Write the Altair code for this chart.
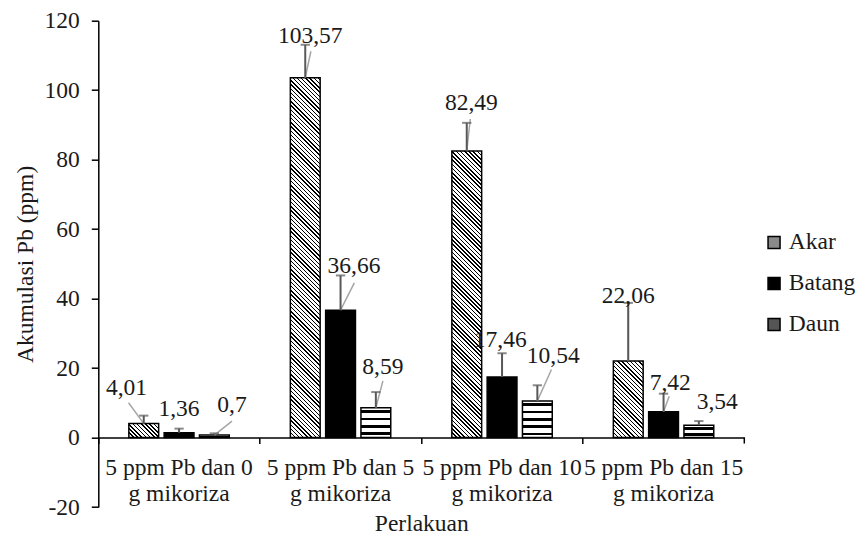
import altair as alt
import pandas as pd

# ---------------- data ----------------
GROUPS = ["5 ppm Pb dan 0\ng mikoriza", "5 ppm Pb dan 5\ng mikoriza",
          "5 ppm Pb dan 10\ng mikoriza", "5 ppm Pb dan 15\ng mikoriza"]
SERIES = ["Akar", "Batang", "Daun"]
AKAR = [4.01, 103.57, 82.49, 22.06]
BATANG = [1.36, 36.66, 17.46, 7.42]
DAUN = [0.7, 8.59, 10.54, 3.54]
AKAR_ERR = [2.3, 9.5, 8.1, 16.7]
BATANG_ERR = [1.2, 10.0, 6.8, 5.2]
DAUN_ERR = [0.5, 4.5, 4.5, 1.2]

# callout placement: label shift (in bar slots) and label height (ppm)
AKAR_LABEL_DX = [-0.49, 0.14, 0.13, 0.0]
AKAR_LABEL_Y = [14.4, 115.7, 96.3, 40.7]
BATANG_LABEL_DX = [0.0, 0.38, -0.05, 0.19]
BATANG_LABEL_Y = [8.3, 49.5, 28.0, 15.7]
DAUN_LABEL_DX = [0.5, 0.2, 0.45, 0.52]
DAUN_LABEL_Y = [9.5, 20.4, 23.5, 10.2]
# leader line start (label end) in bar slots / ppm; None = no leader
AKAR_LEAD = [(-0.43, 10.0), (0.16, 111.2), (0.1, 91.7), (0.0, 38.5)]
BATANG_LEAD = [None, (0.39, 44.5), (0.0, 24.0), (0.16, 11.9)]
DAUN_LEAD = [(0.5, 4.7), (0.2, 16.3), (0.4, 19.6), None]

VALUES = [AKAR, BATANG, DAUN]
ERRS = [AKAR_ERR, BATANG_ERR, DAUN_ERR]
LDX = [AKAR_LABEL_DX, BATANG_LABEL_DX, DAUN_LABEL_DX]
LY = [AKAR_LABEL_Y, BATANG_LABEL_Y, DAUN_LABEL_Y]
LEADS = [AKAR_LEAD, BATANG_LEAD, DAUN_LEAD]

# ---------------- layout ----------------
W = 646
H = 486.3
Y_MIN, Y_MAX = -20, 120
PPU = H / (Y_MAX - Y_MIN)
BAND = W / len(GROUPS)
BAR_W = 29.8
GAP = 5.5
STEP = BAR_W + GAP
PI = GAP / STEP
PO = (BAND / STEP - len(SERIES) + PI) / 2
C0 = PO + (1 - PI) / 2
FONT = "Liberation Serif"
FS = 23.5
TXT = "#1a1a1a"
PAD_L, PAD_T = 90.3, 12.7
TOTAL_W, TOTAL_H = 850, 530


def hatch(h, w=BAR_W, period=4.2, thick=1.5):
    total = w + h
    s = (w + h) / (w * w + h * h)
    n = int(total / period) + 1
    stops = []
    for k in range(n):
        a = min(k * period / total, 1)
        b = min((k * period + thick) / total, 1)
        c = min((k + 1) * period / total, 1)
        stops += [{"offset": a, "color": "black"}, {"offset": b, "color": "black"},
                  {"offset": b, "color": "white"}, {"offset": c, "color": "white"}]
    return {"gradient": "linear", "x1": 0, "y1": 1, "x2": s * w, "y2": 1 - s * h,
            "stops": stops}


def stripes(h, period=8.0, thick=2.6):
    n = max(int(round(h / period)), 1)
    per = 1.0 / n
    t = min(thick / max(h, 1e-6), per * 0.6)
    stops = []
    for k in range(n):
        a = k * per
        m = a + (per - t) / 2
        e = m + t
        c = (k + 1) * per
        stops += [{"offset": a, "color": "white"}, {"offset": m, "color": "white"},
                  {"offset": m, "color": "black"}, {"offset": e, "color": "black"},
                  {"offset": e, "color": "white"}, {"offset": min(c, 1), "color": "white"}]
    return {"gradient": "linear", "x1": 0, "y1": 0, "x2": 0.000001, "y2": 1,
            "stops": stops}


rows, labels, leads = [], [], []
conditions = []
for si, s in enumerate(SERIES):
    for gi, g in enumerate(GROUPS):
        v = VALUES[si][gi]
        e = ERRS[si][gi]
        key = f"{s}{gi}"
        rows.append({"group": g, "series": s, "key": key, "value": v, "top": v + e})
        labels.append({"group": g, "key": key, "lx": si + LDX[si][gi], "ly": LY[si][gi],
                       "text": str(v).replace(".", ",")})
        ld = LEADS[si][gi]
        if ld is not None:
            leads.append({"group": g, "key": key, "xo": si + ld[0], "yv": ld[1], "ord": 0})
            leads.append({"group": g, "key": key, "xo": si, "yv": v, "ord": 1})
        if s == "Akar":
            conditions.append({"test": f"datum.key === '{key}'", "value": hatch(v * PPU)})
        elif s == "Daun":
            conditions.append({"test": f"datum.key === '{key}'", "value": stripes(v * PPU)})

df = pd.DataFrame(rows)
lab_df = pd.DataFrame(labels)
lead_df = pd.DataFrame(leads)

x_enc = alt.X("group:N", sort=GROUPS,
              scale=alt.Scale(paddingInner=0, paddingOuter=0),
              axis=alt.Axis(title="Perlakuan", offset=-(0 - Y_MIN) * PPU, bandPosition=0,
                            tickSize=6, tickWidth=1.5, tickColor="black",
                            domainColor="black", domainWidth=1.5,
                            labelAngle=0, labelExpr="split(datum.label, '\\n')",
                            labelLineHeight=26, labelPadding=12, labelLimit=300,
                            labelFont=FONT, labelFontSize=FS, labelColor=TXT,
                            titleFont=FONT, titleFontSize=FS, titleFontWeight="normal",
                            titleColor=TXT, titlePadding=6))
y_enc = alt.Y("value:Q",
              scale=alt.Scale(domain=[Y_MIN, Y_MAX], nice=False, zero=False),
              axis=alt.Axis(title="Akumulasi Pb (ppm)", values=list(range(Y_MIN, Y_MAX + 1, 20)),
                            labelExpr="datum.value < 0 ? '-' + abs(datum.value) : datum.label",
                            grid=False, tickSize=7, tickWidth=1.5, tickColor="black",
                            domainColor="black", domainWidth=1.5, labelPadding=12,
                            labelFont=FONT, labelFontSize=FS, labelColor=TXT,
                            titleFont=FONT, titleFontSize=FS, titleFontWeight="normal",
                            titleColor=TXT, titleX=-73, titleBaseline="middle"))
xoff_nom = alt.XOffset("series:N", sort=SERIES, scale=alt.Scale(paddingInner=PI, paddingOuter=PO))
xoff_q_scale = alt.Scale(domain=[-C0, BAND / STEP - C0], nice=False, zero=False)

fill_enc = alt.Fill("series:N", sort=SERIES,
                    scale=alt.Scale(domain=SERIES, range=["#8a8a8a", "#000000", "#555555"]),
                    legend=alt.Legend(title=None, orient="none", legendX=664, legendY=210,
                                      symbolType="square", symbolSize=144,
                                      symbolStrokeColor="black", symbolStrokeWidth=1.5,
                                      labelFont=FONT, labelFontSize=FS, labelColor=TXT,
                                      labelOffset=3, rowPadding=16),
                    condition=conditions)

bars = alt.Chart(df).mark_bar(stroke="black", strokeWidth=1.5).encode(
    x=x_enc, xOffset=xoff_nom, y=y_enc, fill=fill_enc)

err = alt.Chart(df).mark_rule(color="#595959", strokeWidth=2).encode(
    x=alt.X("group:N", sort=GROUPS), xOffset=xoff_nom, y="value:Q", y2="top:Q")
caps = alt.Chart(df).mark_tick(color="#595959", thickness=2, size=9.3).encode(
    x=alt.X("group:N", sort=GROUPS), xOffset=xoff_nom, y="top:Q")

leader = alt.Chart(lead_df).mark_line(color="#a6a6a6", strokeWidth=1.5).encode(
    x=alt.X("group:N", sort=GROUPS),
    xOffset=alt.XOffset("xo:Q", scale=xoff_q_scale),
    y="yv:Q", detail="key:N", order="ord:Q")

text = alt.Chart(lab_df).mark_text(font=FONT, fontSize=FS, color=TXT, baseline="middle").encode(
    x=alt.X("group:N", sort=GROUPS),
    xOffset=alt.XOffset("lx:Q", scale=xoff_q_scale),
    y="ly:Q", text="text:N")

end_tick = alt.Chart(pd.DataFrame({"y0": [0], "y1": [-6 / PPU]})).mark_rule(
    color="black", strokeWidth=1.5).encode(x=alt.value(W), y="y0:Q", y2="y1:Q")

chart = alt.layer(bars, leader, err, caps, text, end_tick).resolve_scale(
    xOffset="independent"
).properties(
    width=W, height=H,
    autosize=alt.AutoSizeParams(type="none"),
    padding={"left": PAD_L, "top": PAD_T, "right": TOTAL_W - PAD_L - W,
             "bottom": TOTAL_H - PAD_T - H},
).configure(background="white").configure_view(stroke=None)

chart.save("out.html", embed_options={"renderer": "svg", "actions": False})
